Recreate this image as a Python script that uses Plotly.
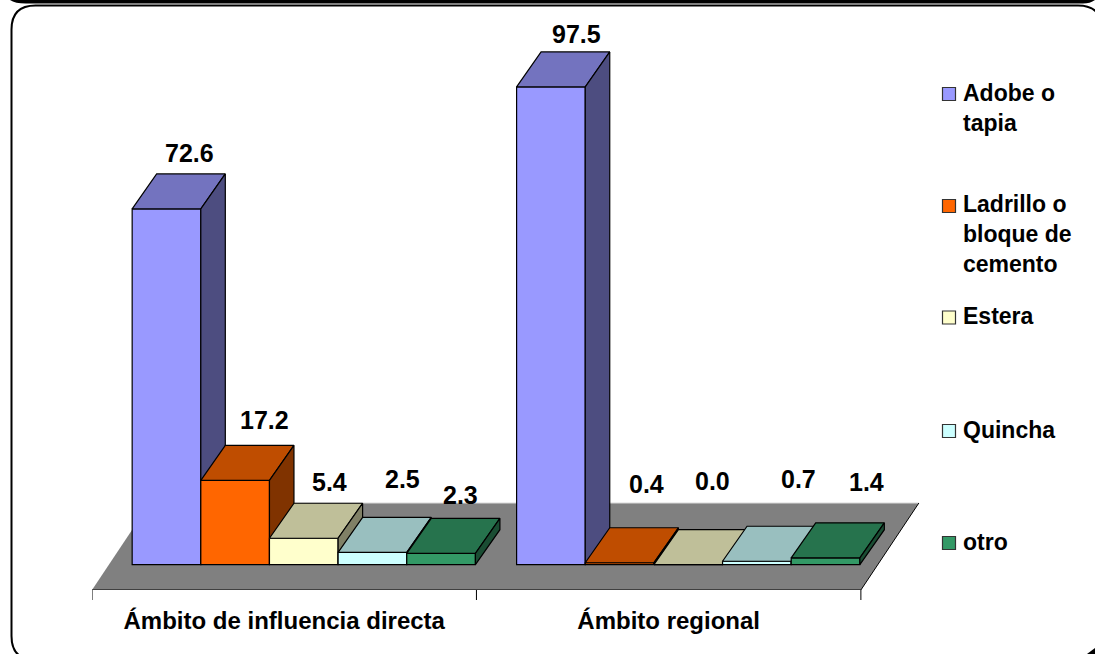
import plotly.graph_objects as go

# ---------- data ----------
categories = ["Ámbito de influencia directa", "Ámbito regional"]
series_names = ["Adobe o<br>tapia", "Ladrillo o<br>bloque de<br>cemento", "Estera", "Quincha", "otro"]
adobe = [72.6, 97.5]
ladrillo = [17.2, 0.4]
estera = [5.4, 0.0]
quincha = [2.5, 0.7]
otro = [2.3, 1.4]
all_series = [adobe, ladrillo, estera, quincha, otro]

# ---------- style ----------
front_colors = ["#9999FF", "#FF6600", "#FFFFCC", "#CCFFFF", "#339966"]
top_colors = ["#7373BF", "#BF4D00", "#BFBF99", "#99BFBF", "#26734D"]
side_colors = ["#4D4D80", "#803300", "#808066", "#668080", "#1A4D33"]
FONT = "Liberation Sans, Arial, sans-serif"
W, H = 1095, 654
ML, MR, MT, MB = 92, 165, 5, 64      # plot area in pixels
PW, PH = W - ML - MR, H - MT - MB
PX_X = 68.65                          # pixels per x unit (one bar width)
PX_Y = 4.9                            # pixels per y unit
GROUP = 5.6
GAP = 0.585
DX, DY = 24.5 / PX_X, 35 / PX_Y       # bar depth
YMIN = -(590 - 564.7) / PX_Y
YMAX = (564.7 - MT) / PX_Y
XMAX = PW / PX_X
FLOOR_DX, FLOOR_DY = 58 / PX_X, 87 / PX_Y
EDGE = dict(color="#000000", width=1.2)

# label nudges (pixels), series by category
label_dx = [[24, 26], [30, 27], [26, 25], [31, 42], [20, 41]]
label_dy = [[56, 53], [60, 79], [56, 84], [73, 82], [58, 76]]


def fx_(px):
    return (px - ML) / PW


def fy_(py):
    return (H - MB - py) / PH


fig = go.Figure()

# floor
fx = [0, 2 * GROUP, 2 * GROUP + FLOOR_DX, FLOOR_DX, 0]
fy = [YMIN, YMIN, YMIN + FLOOR_DY, YMIN + FLOOR_DY, YMIN]
fig.add_trace(go.Scatter(x=fx, y=fy, mode="lines", fill="toself", fillcolor="#808080",
                         line=dict(color="#808080", width=0), showlegend=False, hoverinfo="skip"))
fig.add_trace(go.Scatter(x=fx[3:1:-1], y=fy[3:1:-1], mode="lines", line=dict(color="#D9D9D9", width=1),
                         showlegend=False, hoverinfo="skip"))
fig.add_trace(go.Scatter(x=fx[1:3], y=fy[1:3], mode="lines", line=dict(color="#000000", width=1),
                         showlegend=False, hoverinfo="skip"))

annotations = []
for s, vals in enumerate(all_series):
    yaxis = f"y{s + 2}"
    xs = [g * GROUP + GAP + s + 0.5 for g in range(len(categories))]
    fig.add_trace(go.Bar(x=xs, y=vals, width=1.0, yaxis=yaxis, name=series_names[s].replace("<br>", " "),
                         marker=dict(color=front_colors[s], line=EDGE), showlegend=False))
    for g, v in enumerate(vals):
        x0, x1 = xs[g] - 0.5, xs[g] + 0.5
        fig.add_trace(go.Scatter(x=[x0, x1, x1 + DX, x0 + DX, x0], y=[v, v, v + DY, v + DY, v], yaxis=yaxis,
                                 mode="lines", fill="toself", fillcolor=top_colors[s],
                                 line=EDGE, showlegend=False, hoverinfo="skip"))
        fig.add_trace(go.Scatter(x=[x1, x1 + DX, x1 + DX, x1, x1], y=[0, DY, v + DY, v, 0], yaxis=yaxis,
                                 mode="lines", fill="toself", fillcolor=side_colors[s],
                                 line=EDGE, showlegend=False, hoverinfo="skip"))
        annotations.append(dict(x=xs[g], y=v, xref="x", yref="y", text=f"<b>{v:.1f}</b>", showarrow=False,
                                xshift=label_dx[s][g] - 0.5, yshift=label_dy[s][g],
                                font=dict(family=FONT, size=25, color="#000000")))

# legend, drawn by hand because its rows sit at uneven heights
leg_y = [94, 206, 317.5, 431, 543]
leg_text_y = [107.5, 234, 316, 430, 542]
shapes = []
for s, name in enumerate(series_names):
    yy = leg_y[s]
    shapes.append(dict(type="rect", xref="paper", yref="paper",
                       x0=fx_(942.5), x1=fx_(955.5), y0=fy_(yy + 6.5), y1=fy_(yy - 6.5),
                       fillcolor=front_colors[s], line=dict(color="#333333", width=1.2), layer="above"))
    annotations.append(dict(x=fx_(961), y=fy_(leg_text_y[s]),
                            xref="paper", yref="paper", xanchor="left", yanchor="middle", align="left",
                            text=f"<b>{name}</b>", showarrow=False,
                            font=dict(family=FONT, size=23, color="#000000")))

layout_axes = dict()
for s in range(1, 6):
    layout_axes[f"yaxis{s + 1}"] = dict(overlaying="y", range=[YMIN, YMAX], visible=False, fixedrange=True)

fig.update_layout(
    width=W, height=H, autosize=False, margin=dict(l=ML, r=MR, t=MT, b=MB),
    paper_bgcolor="#FFFFFF", plot_bgcolor="rgba(0,0,0,0)", showlegend=False,
    barmode="overlay", annotations=annotations, shapes=shapes,
    xaxis=dict(range=[0, XMAX], showgrid=False, zeroline=False, showline=False,
               tickmode="array", tickvals=[(g + 0.5) * GROUP for g in range(len(categories))],
               ticktext=[f"<b>{c}</b>" for c in categories], ticks="", ticklen=0, ticklabelstandoff=14,
               tickfont=dict(family=FONT, size=24, color="#000000")),
    yaxis=dict(range=[YMIN, YMAX], visible=False, fixedrange=True),
    **layout_axes,
)
fig.add_shape(type="line", xref="x", yref="y", x0=0, x1=2 * GROUP, y0=YMIN, y1=YMIN,
              line=dict(color="#000000", width=1), layer="above")
for g in range(len(categories) + 1):
    fig.add_shape(type="line", xref="x", yref="paper", x0=g * GROUP, x1=g * GROUP, y0=0, y1=-10 / PH,
                  line=dict(color="#000000", width=1), layer="above")


# frame and black edge fragments
def c(a, b):
    return f"{fx_(a)} {fy_(b)}"


def frame_path(x0, y0, x1, y1, r):
    return (f"M {c(x0 + r, y0)} L {c(x1 - r, y0)} Q {c(x1, y0)} {c(x1, y0 + r)} L {c(x1, y1 - r)} "
            f"Q {c(x1, y1)} {c(x1 - r, y1)} L {c(x0 + r, y1)} Q {c(x0, y1)} {c(x0, y1 - r)} "
            f"L {c(x0, y0 + r)} Q {c(x0, y0)} {c(x0 + r, y0)} Z")


fig.add_shape(type="path", xref="paper", yref="paper", path=frame_path(11.5, 5.5, 1102, 660, 24),
              line=dict(color="#000000", width=2), layer="below")
band = f"M {c(10, 0)} Q {c(15, 3.5)} {c(26, 3.5)} L {c(1083, 3.5)} Q {c(1090, 3.5)} {c(1095, 0)} Z"
fig.add_shape(type="path", xref="paper", yref="paper", path=band,
              fillcolor="#000000", line=dict(width=0), layer="below")
corner = f"M {c(1095, 648)} L {c(1095, 654)} L {c(1087, 654)} Z"
fig.add_shape(type="path", xref="paper", yref="paper", path=corner,
              fillcolor="#000000", line=dict(width=0), layer="below")

fig.write_html("out.html", config={"displayModeBar": False},
               post_script="document.body.style.margin='0';")
